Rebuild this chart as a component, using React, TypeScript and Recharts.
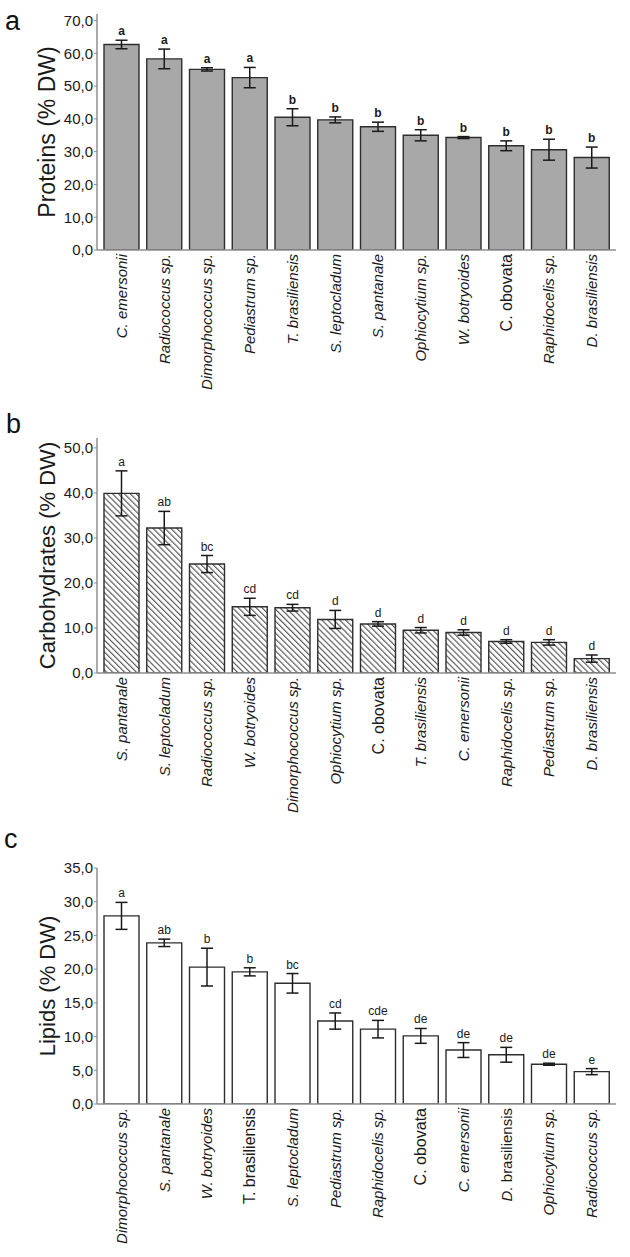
import React from "react";
import { BarChart, Bar, XAxis, YAxis, ErrorBar, LabelList } from "recharts";

const FONT = '"Liberation Sans", Arial, Helvetica, sans-serif';

// (a) Proteins
const proteinSpecies = [
  "C. emersonii", "Radiococcus sp.", "Dimorphococcus sp.", "Pediastrum sp.",
  "T. brasiliensis", "S. leptocladum", "S. pantanale", "Ophiocytium sp.",
  "W. botryoides", "C. obovata", "Raphidocelis sp.", "D. brasiliensis",
];
const proteinMean = [62.7, 58.3, 55.1, 52.6, 40.5, 39.7, 37.6, 35.0, 34.3, 31.8, 30.6, 28.2];
const proteinSd = [1.3, 3.0, 0.5, 3.1, 2.6, 0.9, 1.4, 1.7, 0.3, 1.5, 3.2, 3.2];
const proteinGroup = ["a", "a", "a", "a", "b", "b", "b", "b", "b", "b", "b", "b"];
const proteinTicks = [0, 10, 20, 30, 40, 50, 60, 70];

// (b) Carbohydrates
const carbSpecies = [
  "S. pantanale", "S. leptocladum", "Radiococcus sp.", "W. botryoides",
  "Dimorphococcus sp.", "Ophiocytium sp.", "C. obovata", "T. brasiliensis",
  "C. emersonii", "Raphidocelis sp.", "Pediastrum sp.", "D. brasiliensis",
];
const carbMean = [39.9, 32.2, 24.2, 14.7, 14.5, 11.9, 10.9, 9.5, 9.0, 7.0, 6.8, 3.2];
const carbSd = [5.0, 3.7, 1.9, 1.9, 0.75, 2.0, 0.5, 0.6, 0.6, 0.4, 0.6, 0.8];
const carbGroup = ["a", "ab", "bc", "cd", "cd", "d", "d", "d", "d", "d", "d", "d"];
const carbTicks = [0, 10, 20, 30, 40, 50];

// (c) Lipids
const lipidSpecies = [
  "Dimorphococcus sp.", "S. pantanale", "W. botryoides", "T. brasiliensis",
  "S. leptocladum", "Pediastrum sp.", "Raphidocelis sp.", "C. obovata",
  "C. emersonii", "D. brasiliensis", "Ophiocytium sp.", "Radiococcus sp.",
];
const lipidMean = [27.9, 23.9, 20.3, 19.6, 17.9, 12.3, 11.1, 10.1, 8.0, 7.3, 5.9, 4.8];
const lipidSd = [2.0, 0.55, 2.8, 0.6, 1.45, 1.2, 1.3, 1.1, 1.1, 1.1, 0.15, 0.45];
const lipidGroup = ["a", "ab", "b", "b", "bc", "cd", "cde", "de", "de", "de", "de", "e"];
const lipidTicks = [0, 5, 10, 15, 20, 25, 30, 35];

const fmt = (v: number) => v.toFixed(1).replace(".", ",");

type Row = { name: string; mean: number; sd: number; grp: string };

function SpeciesTick(props: any) {
  const { x, y, payload, upright, romanEpithet } = props;
  const name: string = payload.value;
  const isUpright = upright.includes(name);
  const fs = isUpright ? 16 : 15;
  const ax = x + fs * 0.36;
  const ay = y;
  let parts: [string, string][];
  if (isUpright) parts = [[name, "normal"]];
  else if (romanEpithet.includes(name)) {
    const i = name.indexOf(" ");
    parts = [[name.slice(0, i + 1), "italic"], [name.slice(i + 1), "normal"]];
  } else parts = [[name, "italic"]];
  return (
    <text
      x={ax}
      y={ay}
      transform={`rotate(-90 ${ax} ${ay})`}
      textAnchor="end"
      fontSize={fs}
      fill="#1a1a1a"
      fontFamily={FONT}
      style={{ whiteSpace: "pre" }}
    >
      {parts.map(([t, s], k) => (
        <tspan key={k} fontStyle={s}>
          {t}
        </tspan>
      ))}
    </text>
  );
}

function AxisTitle(props: any) {
  const { viewBox, value, size } = props;
  const cx = 47;
  const cy = viewBox.y + viewBox.height / 2;
  return (
    <text
      x={cx}
      y={cy}
      transform={`rotate(-90 ${cx} ${cy})`}
      textAnchor="middle"
      dominantBaseline="central"
      fontSize={size}
      fill="#1a1a1a"
      fontFamily={FONT}
    >
      {value}
    </text>
  );
}

type PanelProps = {
  names: string[];
  mean: number[];
  sd: number[];
  group: string[];
  ticks: number[];
  domainMax: number;
  title: string;
  titleSize: number;
  fill: string;
  top: number;
  height: number;
  marginTop: number;
  upright: string[];
  romanEpithet: string[];
  letterWeight: string;
};

const FRAME = "#8f8f8f";

function Panel(p: PanelProps) {
  const data: Row[] = p.names.map((n, i) => ({
    name: n,
    mean: p.mean[i],
    sd: p.sd[i],
    grp: p.group[i],
  }));
  return (
    <div style={{ position: "absolute", left: 0, top: p.top }}>
      <BarChart
        width={630}
        height={p.height}
        data={data}
        margin={{ top: p.marginTop, right: 14, left: 0, bottom: 0 }}
      >
        <defs>
          <pattern
            id="hatch"
            patternUnits="userSpaceOnUse"
            width={4.2}
            height={4.2}
            patternTransform="rotate(-45)"
          >
            <rect width={4.2} height={4.2} fill="#ffffff" />
            <line x1={0.6} y1={0} x2={0.6} y2={4.2} stroke="#505050" strokeWidth={1.1} />
          </pattern>
        </defs>
        <XAxis
          dataKey="name"
          interval={0}
          height={150}
          padding={{ left: 3, right: 3 }}
          tickLine={false}
          tickSize={0}
          tickMargin={4}
          axisLine={{ stroke: FRAME, strokeWidth: 1.5 }}
          tick={<SpeciesTick upright={p.upright} romanEpithet={p.romanEpithet} />}
        />
        <XAxis
          xAxisId="frame"
          dataKey="name"
          orientation="top"
          height={0}
          tick={false}
          tickLine={false}
          axisLine={{ stroke: FRAME, strokeWidth: 1.5 }}
        />
        <YAxis
          width={97}
          domain={[0, p.domainMax]}
          ticks={p.ticks}
          allowDataOverflow
          tickFormatter={fmt}
          tickSize={3}
          tickMargin={1}
          tickLine={{ stroke: FRAME }}
          axisLine={{ stroke: FRAME, strokeWidth: 1.5 }}
          tick={{ fontSize: 15, fill: "#1a1a1a", fontFamily: FONT }}
          label={<AxisTitle value={p.title} size={p.titleSize} />}
        />
        <YAxis
          yAxisId="frame"
          orientation="right"
          width={0}
          domain={[0, p.domainMax]}
          tick={false}
          tickLine={false}
          axisLine={{ stroke: FRAME, strokeWidth: 1.5 }}
        />
        <Bar
          dataKey="mean"
          barSize={35}
          fill={p.fill}
          stroke="#2e2e2e"
          strokeWidth={1.4}
          isAnimationActive={false}
        >
          <ErrorBar dataKey="sd" width={6} stroke="#1a1a1a" strokeWidth={1.5} />
          <LabelList
            dataKey="grp"
            content={(lp: any) => {
              const { x, y, width, height, index, value } = lp;
              const d = data[index];
              const bottom = y + height;
              const errTop = bottom - (bottom - y) * ((d.mean + d.sd) / d.mean);
              return (
                <text
                  x={x + width / 2}
                  y={errTop - 5}
                  textAnchor="middle"
                  fontSize={12}
                  fontWeight={p.letterWeight}
                  fill="#1a1a1a"
                  fontFamily={FONT}
                >
                  {value}
                </text>
              );
            }}
          />
        </Bar>
      </BarChart>
    </div>
  );
}

export default function App() {
  return (
    <div
      style={{
        position: "absolute",
        left: 0,
        top: 0,
        width: 630,
        height: 1257,
        background: "#ffffff",
        overflow: "hidden",
        fontFamily: FONT,
      }}
    >
      <Panel
        names={proteinSpecies}
        mean={proteinMean}
        sd={proteinSd}
        group={proteinGroup}
        ticks={proteinTicks}
        domainMax={72}
        title="Proteins (% DW)"
        titleSize={23}
        fill="#a8a8a8"
        top={0}
        height={400}
        marginTop={14}
        upright={["C. obovata"]}
        romanEpithet={[]}
        letterWeight="bold"
      />
      <Panel
        names={carbSpecies}
        mean={carbMean}
        sd={carbSd}
        group={carbGroup}
        ticks={carbTicks}
        domainMax={52.2}
        title="Carbohydrates (% DW)"
        titleSize={22}
        fill="url(#hatch)"
        top={400}
        height={423}
        marginTop={38}
        upright={["C. obovata"]}
        romanEpithet={[]}
        letterWeight="normal"
      />
      <Panel
        names={lipidSpecies}
        mean={lipidMean}
        sd={lipidSd}
        group={lipidGroup}
        ticks={lipidTicks}
        domainMax={35}
        title="Lipids (% DW)"
        titleSize={22}
        fill="#ffffff"
        top={823}
        height={431}
        marginTop={45}
        upright={["C. obovata", "T. brasiliensis"]}
        romanEpithet={["D. brasiliensis"]}
        letterWeight="normal"
      />
      <svg
        width={630}
        height={1257}
        style={{ position: "absolute", left: 0, top: 0, pointerEvents: "none" }}
      >
        <text x={5} y={30} fontSize={27} fill="#111" fontFamily={FONT}>a</text>
        <text x={6} y={433} fontSize={27} fill="#111" fontFamily={FONT}>b</text>
        <text x={4} y={848} fontSize={27} fill="#111" fontFamily={FONT}>c</text>
      </svg>
    </div>
  );
}
